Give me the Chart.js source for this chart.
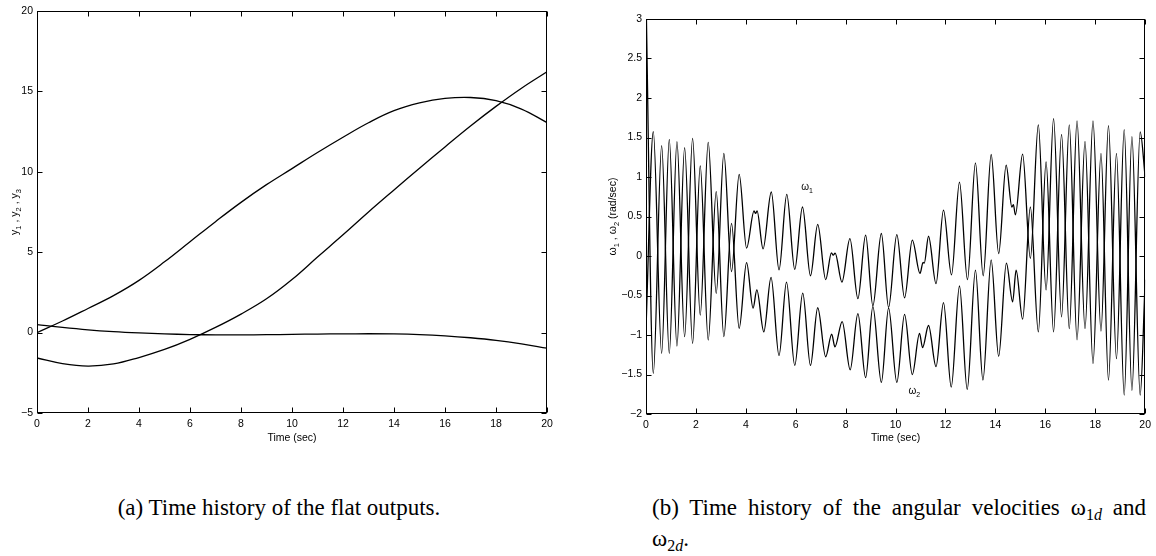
<!DOCTYPE html>
<html><head><meta charset="utf-8">
<script src="https://cdn.jsdelivr.net/npm/chart.js@4.4.0/dist/chart.umd.min.js"></script>
<style>
html,body{margin:0;padding:0;background:#fff;}
#wrap{position:relative;width:1156px;height:556px;overflow:hidden;background:#fff;}
#c1{position:absolute;left:0;top:0;}
#c2{position:absolute;left:560px;top:0;}
.cap{position:absolute;font-family:"Liberation Serif","Times New Roman",serif;font-size:23px;color:#000;line-height:31px;}
#capA{left:0;width:558px;top:492px;text-align:center;}
#capB{left:652px;width:494px;top:492px;text-align:justify;}
#capB sub{font-size:16px;line-height:0;vertical-align:-5px;}
</style></head><body>
<div id="wrap">
<canvas id="c1" width="560" height="450"></canvas>
<canvas id="c2" width="596" height="450"></canvas>
<div class="cap" id="capA">(a) Time history of the flat outputs.</div>
<div class="cap" id="capB">(b) Time history of the angular velocities ω<sub>1<i>d</i></sub> and ω<sub>2<i>d</i></sub>.</div>
</div>
<script>
// ---------- data ----------
const flatTime = [0,1,2,3,4,5,6,7,8,9,10,11,12,13,14,15,16,17,18,19,20];
const flatY1 = [0.0,0.72,1.5,2.3,3.25,4.4,5.65,6.9,8.1,9.2,10.2,11.2,12.15,13.05,13.8,14.28,14.56,14.62,14.42,13.9,13.06];
const flatY2 = [-1.58,-1.93,-2.08,-1.95,-1.55,-1.05,-0.42,0.32,1.15,2.1,3.3,4.7,6.08,7.5,8.87,10.22,11.55,12.85,14.07,15.2,16.22];
const flatY3 = [0.5,0.32,0.17,0.06,-0.02,-0.08,-0.12,-0.14,-0.14,-0.13,-0.11,-0.09,-0.08,-0.07,-0.08,-0.12,-0.2,-0.32,-0.48,-0.7,-0.97];

const w1Time = [0,0.293,0.627,0.933,1.24,1.547,1.867,2.173,2.493,2.813,3.12,3.427,3.733,4.03,4.33,4.39,4.45,4.69,5.02,5.33,5.64,5.96,6.27,6.59,6.88,7.2,7.43,7.5,7.58,7.85,8.17,8.49,8.8,9.09,9.43,9.72,10.05,10.36,10.67,10.98,11.1,11.15,11.32,11.62,11.92,12.24,12.56,12.88,13.2,13.51,13.83,14.13,14.43,14.66,14.72,14.8,15.09,15.4,15.72,16.03,16.33,16.65,16.96,17.27,17.59,17.91,18.23,18.53,18.85,19.16,19.47,19.8,20];
const w1Val = [3.3,-1.485,1.397,-1.232,1.447,-1.021,1.489,-0.747,1.439,-0.473,1.30,-0.198,1.034,0.1,0.57,0.54,0.57,0.09,0.81,-0.175,0.78,-0.17,0.62,-0.25,0.4,-0.3,0.04,0.01,0.035,-0.33,0.22,-0.54,0.265,-0.63,0.285,-0.65,0.27,-0.53,0.2,-0.22,-0.08,-0.09,0.25,-0.35,0.58,-0.24,0.935,-0.3,1.18,-0.25,1.285,0.03,1.15,0.62,0.65,0.52,1.29,-0.03,1.66,-0.43,1.74,-0.77,1.66,-1.06,1.45,-1.36,1.30,-1.57,1.30,-1.76,1.51,-1.76,-0.3];

const w2Time = [0,0.293,0.627,0.933,1.24,1.547,1.867,2.173,2.493,2.813,3.12,3.427,3.733,4.03,4.29,4.44,4.72,5.01,5.33,5.63,5.96,6.28,6.59,6.88,7.2,7.44,7.57,7.86,8.18,8.49,8.8,9.09,9.43,9.72,10.05,10.36,10.67,10.96,11.08,11.32,11.62,11.92,12.23,12.56,12.87,13.2,13.5,13.83,14.13,14.44,14.69,14.83,15.09,15.4,15.72,16.03,16.33,16.65,16.96,17.27,17.59,17.91,18.23,18.53,18.85,19.16,19.47,19.8,20];
const w2Val = [-0.92,1.574,-1.232,1.477,-1.139,1.371,-1.105,1.139,-1.063,0.814,-1.021,0.413,-0.916,-0.085,-0.66,-0.43,-0.96,-0.27,-1.26,-0.33,-1.385,-0.47,-1.385,-0.655,-1.275,-0.99,-1.15,-0.83,-1.44,-0.73,-1.54,-0.64,-1.6,-0.66,-1.6,-0.74,-1.5,-0.98,-1.16,-0.88,-1.4,-0.59,-1.66,-0.38,-1.69,-0.18,-1.57,-0.05,-1.27,-0.09,-0.58,-0.18,-0.8,0.62,-0.96,1.19,-0.96,1.54,-0.92,1.71,-0.92,1.71,-0.95,1.65,-1.3,1.6,-1.7,1.57,1.0];

const timeTicks = [0,2,4,6,8,10,12,14,16,18,20];
const flatTicks = [-5,0,5,10,15,20];
const omegaTicks = [-2,-1.5,-1,-0.5,0,0.5,1,1.5,2,2.5,3];

// ---------- helpers ----------
const FONT = '"Liberation Sans", Arial, Helvetica, sans-serif';
const fmt = v => (v < 0 ? '\u2212' + Math.abs(v) : String(v));
const pts = (ts, vs) => ts.map((t, i) => ({x: t, y: vs[i]}));

function drawRich(ctx, parts, x, y, rot, size, subSize) {
  ctx.save();
  ctx.translate(x, y);
  ctx.rotate(rot);
  let w = 0;
  parts.forEach(p => { ctx.font = (p[1] ? subSize : size) + 'px ' + FONT; w += ctx.measureText(p[0]).width; });
  let cx = -w / 2;
  ctx.textAlign = 'left';
  ctx.textBaseline = 'alphabetic';
  ctx.fillStyle = '#000';
  parts.forEach(p => {
    ctx.font = (p[1] ? subSize : size) + 'px ' + FONT;
    ctx.fillText(p[0], cx, p[1] ? size * 0.62 : size * 0.36);
    cx += ctx.measureText(p[0]).width;
  });
  ctx.restore();
}

function boxPlugin(yTitleParts, yTitleX, notes) {
  return {
    id: 'box',
    afterDatasetsDraw(chart) {
      const {ctx, chartArea: a, scales: {x, y}} = chart;
      ctx.save();
      ctx.strokeStyle = '#000';
      ctx.lineWidth = 1;
      const L = Math.round(a.left) + 0.5, R = Math.round(a.right) - 0.5;
      const T = Math.round(a.top) + 0.5, B = Math.round(a.bottom) - 0.5;
      ctx.strokeRect(L, T, R - L, B - T);
      ctx.beginPath();
      x.ticks.forEach((t, i) => {
        const px = Math.round(x.getPixelForTick(i)) + 0.5;
        ctx.moveTo(px, B); ctx.lineTo(px, B - 5);
        ctx.moveTo(px, T); ctx.lineTo(px, T + 5);
      });
      y.ticks.forEach((t, i) => {
        const py = Math.round(y.getPixelForTick(i)) + 0.5;
        ctx.moveTo(L, py); ctx.lineTo(L + 5, py);
        ctx.moveTo(R, py); ctx.lineTo(R - 5, py);
      });
      ctx.stroke();
      ctx.restore();
      drawRich(ctx, yTitleParts, yTitleX, (a.top + a.bottom) / 2, -Math.PI / 2, 10.5, 7.5);
      (notes || []).forEach(n => {
        drawRich(ctx, n.parts, x.getPixelForValue(n.x), y.getPixelForValue(n.y), 0, 10, 7);
      });
    }
  };
}

function makeChart(id, datasets, yMin, yMax, yTicks, yWidth, xHeight, pad, plugin) {
  return new Chart(document.getElementById(id), {
    type: 'line',
    data: {datasets},
    options: {
      responsive: false, animation: false, devicePixelRatio: 1,
      layout: {padding: pad},
      plugins: {legend: {display: false}, tooltip: {enabled: false}},
      elements: {point: {radius: 0}},
      scales: {
        x: {
          type: 'linear', min: 0, max: 20,
          afterBuildTicks: s => { s.ticks = timeTicks.map(v => ({value: v})); },
          grid: {display: false, drawTicks: false}, border: {display: false},
          ticks: {color: '#000', font: {family: FONT, size: 10.5}, padding: 5, maxRotation: 0, autoSkip: false, callback: fmt},
          title: {display: true, text: 'Time (sec)', color: '#000', font: {family: FONT, size: 10.5}, padding: {top: 0, bottom: 6}},
          afterFit: s => { s.height = xHeight; }
        },
        y: {
          type: 'linear', min: yMin, max: yMax,
          afterBuildTicks: s => { s.ticks = yTicks.map(v => ({value: v})); },
          grid: {display: false, drawTicks: false}, border: {display: false},
          ticks: {color: '#000', font: {family: FONT, size: 10.5}, padding: 4, autoSkip: false, callback: fmt},
          afterFit: s => { s.width = yWidth; }
        }
      }
    },
    plugins: [plugin]
  });
}

const lineStyle = {borderColor: '#000', borderWidth: 1.3, fill: false, pointRadius: 0};

makeChart('c1', [
  Object.assign({data: pts(flatTime, flatY1), tension: 0.4}, lineStyle),
  Object.assign({data: pts(flatTime, flatY2), tension: 0.4}, lineStyle),
  Object.assign({data: pts(flatTime, flatY3), tension: 0.4}, lineStyle)
], -5, 20, flatTicks, 37, 37, {left: 0, top: 11, right: 13, bottom: 0},
  boxPlugin([['y', 0], ['1', 1], [' , y', 0], ['2', 1], [' , y', 0], ['3', 1]], 14, []));

makeChart('c2', [
  Object.assign({data: pts(w1Time, w1Val), cubicInterpolationMode: 'monotone'}, lineStyle),
  Object.assign({data: pts(w2Time, w2Val), cubicInterpolationMode: 'monotone'}, lineStyle)
], -2, 3, omegaTicks, 86, 36, {left: 0, top: 19, right: 10, bottom: 0},
  boxPlugin([['\u03c9', 0], ['1', 1], [' , \u03c9', 0], ['2', 1], [' (rad/sec)', 0]], 52, [
    {parts: [['\u03c9', 0], ['1', 1]], x: 6.45, y: 0.88},
    {parts: [['\u03c9', 0], ['2', 1]], x: 10.75, y: -1.7}
  ]));
</script>
</body></html>
